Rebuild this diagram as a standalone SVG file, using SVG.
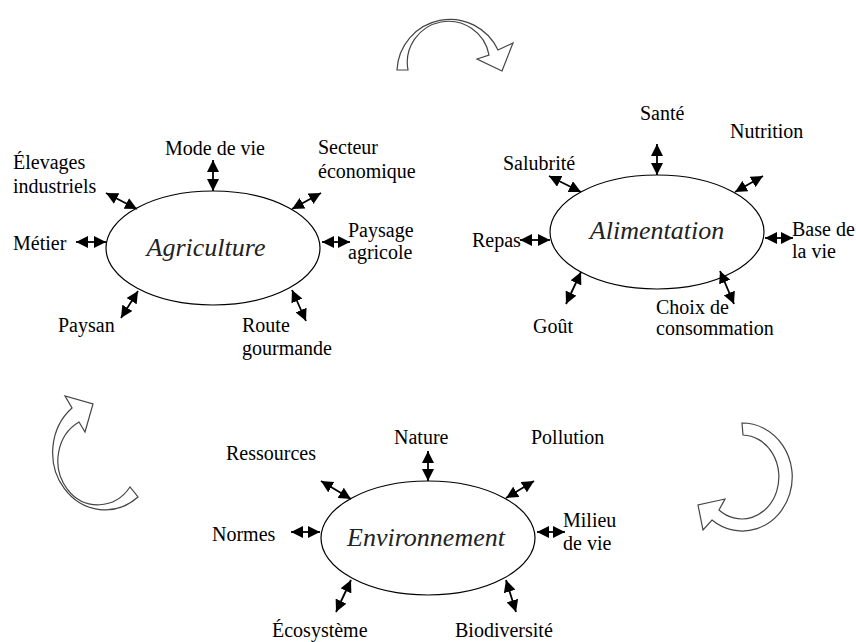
<svg xmlns="http://www.w3.org/2000/svg" width="856" height="642" viewBox="0 0 856 642">
<style>
text{font-family:'Liberation Serif','Times New Roman','DejaVu Serif',serif}
.lbl{font-size:20px;fill:#000}
.ttl{font-size:26px;font-style:italic;fill:#222;text-anchor:middle}
.ell{fill:#fff;stroke:#000;stroke-width:1.2}
.blk{fill:#fff;stroke:#444;stroke-width:1.2}
.con line{stroke:#000;stroke-width:1.8;marker-start:url(#ah);marker-end:url(#ah)}
</style>
<defs>
<marker id="ah" viewBox="0 0 12 12" refX="12" refY="6" markerWidth="12" markerHeight="12" markerUnits="userSpaceOnUse" orient="auto-start-reverse">
<path d="M0,0 L12,6 L0,12 Z" fill="#000"/>
</marker>
</defs>
<rect width="856" height="642" fill="#fff"/>
<g id="cycle-arrows">
<path class="blk" d="M397,70 A53,53 0 0 1 498,50 L513,43 L502,71 L477,59 L489,55 A41,41 0 0 0 408,70 Z"/>
<path class="blk" d="M138,497 A52,57 0 1 1 72,408 L65,396 L93,404 L85,432 L79,422 A40,44 0 1 0 130,487 Z"/>
<path class="blk" d="M742,423 A50,54 0 1 1 712,520 L703,530 L698,505 L725,499 L719,510 A37,42 0 1 0 743,435 Z"/>
</g>
<g id="agriculture">
<ellipse class="ell" cx="213" cy="248" rx="107" ry="57"/>
<text class="ttl" x="206" y="256" font-family="Liberation Serif, DejaVu Serif, serif">Agriculture</text>
</g>
<g id="alimentation">
<ellipse class="ell" cx="657" cy="232" rx="107" ry="57"/>
<text class="ttl" x="657" y="239">Alimentation</text>
</g>
<g id="environnement">
<ellipse class="ell" cx="428" cy="538" rx="107" ry="57"/>
<text class="ttl" x="426" y="546">Environnement</text>
</g>
<g id="labels-agriculture">
<text class="lbl" x="13" y="169">Élevages</text>
<text class="lbl" x="13" y="193">industriels</text>
<text class="lbl" x="165" y="155">Mode de vie</text>
<text class="lbl" x="318" y="154">Secteur</text>
<text class="lbl" x="318" y="178">économique</text>
<text class="lbl" x="13" y="250">Métier</text>
<text class="lbl" x="348" y="237">Paysage</text>
<text class="lbl" x="348" y="259">agricole</text>
<text class="lbl" x="58" y="332">Paysan</text>
<text class="lbl" x="242" y="332">Route</text>
<text class="lbl" x="242" y="355">gourmande</text>
</g>
<g id="labels-alimentation">
<text class="lbl" x="640" y="120">Santé</text>
<text class="lbl" x="730" y="138">Nutrition</text>
<text class="lbl" x="503" y="170">Salubrité</text>
<text class="lbl" x="472" y="247">Repas</text>
<text class="lbl" x="792" y="236">Base de</text>
<text class="lbl" x="792" y="258">la vie</text>
<text class="lbl" x="533" y="333">Goût</text>
<text class="lbl" x="656" y="314">Choix de</text>
<text class="lbl" x="656" y="335">consommation</text>
</g>
<g id="labels-environnement">
<text class="lbl" x="394" y="444">Nature</text>
<text class="lbl" x="531" y="444">Pollution</text>
<text class="lbl" x="226" y="460">Ressources</text>
<text class="lbl" x="212" y="541">Normes</text>
<text class="lbl" x="563" y="527">Milieu</text>
<text class="lbl" x="563" y="550">de vie</text>
<text class="lbl" x="272" y="637">Écosystème</text>
<text class="lbl" x="455" y="637">Biodiversité</text>
</g>
<g id="connectors" class="con">
<line x1="213" y1="160" x2="213" y2="191"/>
<line x1="106" y1="193" x2="137" y2="209"/>
<line x1="321" y1="193" x2="292" y2="209"/>
<line x1="76" y1="242" x2="106" y2="242"/>
<line x1="322" y1="242" x2="350" y2="242"/>
<line x1="138" y1="291" x2="121" y2="318"/>
<line x1="292" y1="290" x2="306" y2="321"/>
<line x1="657" y1="144" x2="657" y2="175"/>
<line x1="763" y1="176" x2="735" y2="192"/>
<line x1="549" y1="176" x2="581" y2="192"/>
<line x1="520" y1="240" x2="550" y2="240"/>
<line x1="765" y1="238" x2="793" y2="238"/>
<line x1="581" y1="272" x2="566" y2="304"/>
<line x1="720" y1="271" x2="734" y2="304"/>
<line x1="428" y1="451" x2="428" y2="481"/>
<line x1="321" y1="481" x2="351" y2="499"/>
<line x1="534" y1="481" x2="506" y2="498"/>
<line x1="291" y1="532" x2="320" y2="532"/>
<line x1="537" y1="532" x2="565" y2="532"/>
<line x1="351" y1="580" x2="336" y2="612"/>
<line x1="506" y1="580" x2="516" y2="612"/>
</g>
</svg>
